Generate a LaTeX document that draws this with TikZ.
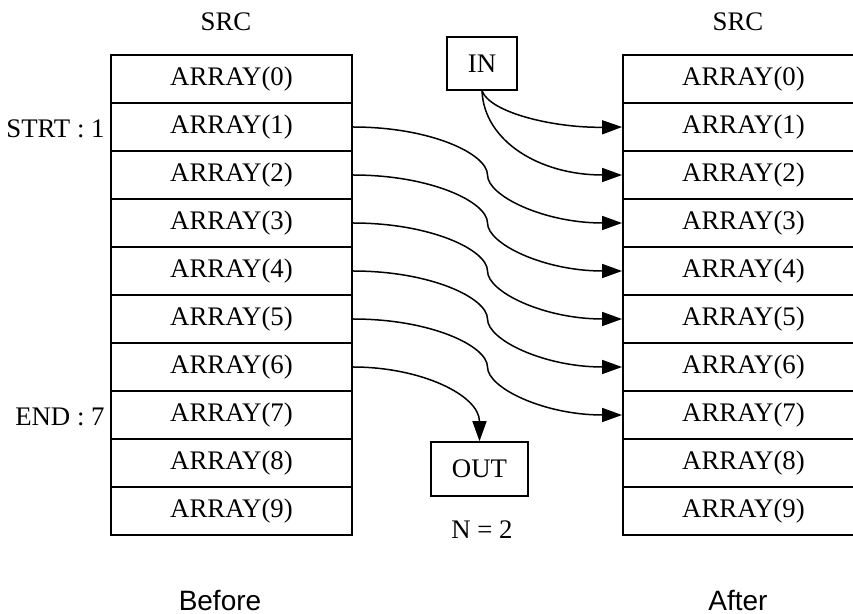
\documentclass[tikz,border=0pt]{standalone}
\usepackage{fontspec}
\setmainfont{Liberation Serif}
\newfontfamily\captionfont{Liberation Sans}
\usetikzlibrary{arrows.meta, positioning, calc}
\tikzset{
    arraydiagram/.style={x=0.5pt, y=-0.5pt, font=\fontsize{13.4}{15}\selectfont},
    cell/.style={draw, line width=0.9pt, minimum width=120.5pt, minimum height=24pt, inner sep=0pt},
    box/.style={draw, line width=0.8pt, inner sep=0pt},
    flow/.style={-{Triangle[length=10pt, width=7pt]}, line width=0.75pt},
    caption/.style={font=\fontsize{14}{16}\selectfont\captionfont},
}

\begin{document}
\begin{tikzpicture}[arraydiagram]
    \useasboundingbox (0,0) rectangle (853,614);
    \clip (0,0) rectangle (853,614);

    % the two arrays, before and after
    \foreach \i in {0,...,9} {
        \node[cell] (before\i) at (231.5,{79+48*\i}) {ARRAY(\i)};
        \node[cell] (after\i) at (743.5,{79+48*\i}) {ARRAY(\i)};
    }

    \node (srcbefore) at (226,22) {SRC};
    \node (srcafter) at (738,22) {SRC};

    \node[anchor=east, inner sep=0pt] (strt) at (105,129) {STRT : 1};
    \node[anchor=east, inner sep=0pt] (end) at (105,417) {END : 7};

    \node[box, minimum width=35pt, minimum height=26.5pt] (in) at (482,63.5) {IN};
    \node[box, minimum width=48.5pt, minimum height=27pt] (out) at (479.5,469) {OUT};
    \node (count) at (482,530) {N = 2};

    \node[caption] (before) at (220,601) {Before};
    \node[caption] (after) at (738,601) {After};

    % new elements come in
    \draw[flow] (in.south) .. controls +(8,22) and +(-68,1) .. (after1.west);
    \draw[flow] (in.south) .. controls +(2,50) and +(-83,0) .. (after2.west);

    % shifted elements
    \foreach \i [evaluate=\i as \j using int(\i+2)] in {1,...,5}
        \draw[flow] (before\i.east) .. controls +(78,0) and +(0,-21) ..
            ($(before\i.east)!0.5!(after\j.west)$) .. controls +(0,21) and +(-78,0) .. (after\j.west);

    % dropped element
    \draw[flow] (before6.east) .. controls +(68,0) and +(0,-46) .. (out.north);
\end{tikzpicture}
\end{document}
